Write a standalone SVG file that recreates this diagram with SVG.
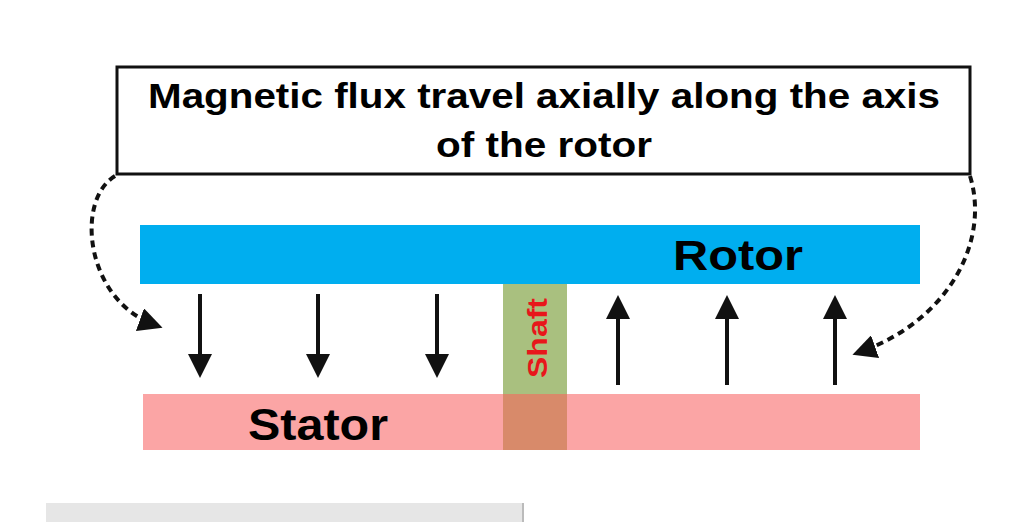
<svg xmlns="http://www.w3.org/2000/svg" width="1024" height="522" viewBox="0 0 1024 522">
<style>
.t{font-family:"Liberation Sans",Arial,sans-serif;font-weight:bold}
.fa{stroke:#111;stroke-width:4;fill:none}
.ds{stroke:#111;stroke-width:4;fill:none;stroke-dasharray:7,5}
</style>
<defs>
<marker id="ah" markerWidth="6" markerHeight="6" refX="4" refY="3" orient="auto" markerUnits="strokeWidth"><path d="M0,0L6,3L0,6z" fill="#111"/></marker>
<marker id="ad" markerWidth="6" markerHeight="6" refX="4" refY="3" orient="auto" markerUnits="strokeWidth"><path d="M0,0L6,3L0,6z" fill="#111"/></marker>
</defs>
<rect width="1024" height="522" fill="#fff"/>
<g id="title"><rect x="117" y="67" width="853" height="107" fill="#fff" stroke="#111" stroke-width="3"/>
<text class="t" x="148" y="108" font-size="35" textLength="792" lengthAdjust="spacingAndGlyphs">Magnetic flux travel axially along the axis</text>
<text class="t" x="436" y="157" font-size="35" textLength="216" lengthAdjust="spacingAndGlyphs">of the rotor</text></g>
<g id="rotor"><rect x="140" y="225" width="780" height="59" fill="#00aeef"/>
<text class="t" x="673" y="270" font-size="42" textLength="130" lengthAdjust="spacingAndGlyphs">Rotor</text></g>
<g id="stator"><rect x="143" y="394" width="777" height="56" fill="#fba5a5"/>
<text class="t" x="248" y="440" font-size="44" textLength="140" lengthAdjust="spacingAndGlyphs">Stator</text></g>
<g id="shaft"><rect x="503" y="284" width="64" height="110" fill="#a9c07f"/><rect x="503" y="394" width="64" height="56" fill="#d88a6a"/>
<text class="t" transform="translate(547,378) rotate(-90)" font-size="27" fill="#e8161b" textLength="80" lengthAdjust="spacingAndGlyphs">Shaft</text></g>
<rect x="46" y="503" width="477" height="19" fill="#e6e6e6"/><line x1="523" y1="503" x2="523" y2="522" stroke="#bbb" stroke-width="2"/>
<g id="connectors">
<path class="fa" d="M200,294V370" marker-end="url(#ah)"/>
<path class="fa" d="M318,294V370" marker-end="url(#ah)"/>
<path class="fa" d="M437,294V370" marker-end="url(#ah)"/>
<path class="fa" d="M618,385V303" marker-end="url(#ah)"/>
<path class="fa" d="M727,385V303" marker-end="url(#ah)"/>
<path class="fa" d="M835,385V303" marker-end="url(#ah)"/>
<path class="ds" d="M115,176C75,200 85,300 155,325" marker-end="url(#ad)"/>
<path class="ds" d="M970,176C990,240 950,320 860,352" marker-end="url(#ad)"/>
</g>
</svg>
